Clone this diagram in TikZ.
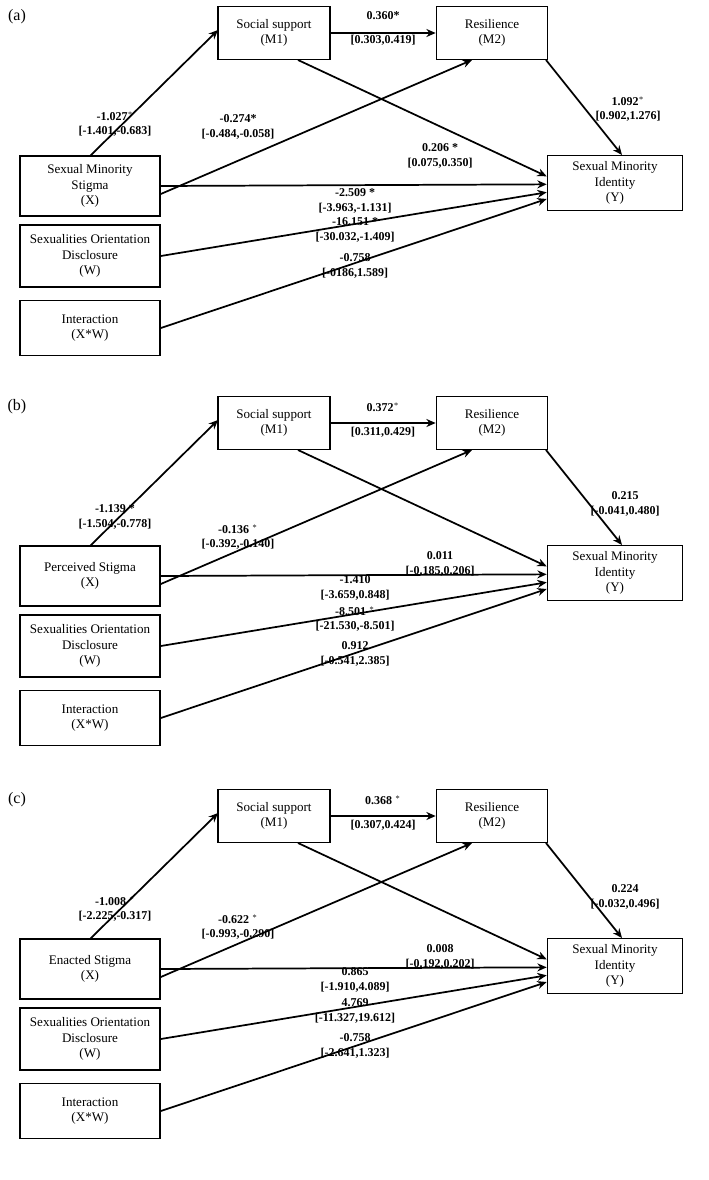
\documentclass[tikz,border=0pt]{standalone}
\usepackage{fontspec}
\setmainfont{Liberation Serif}
\usetikzlibrary{arrows.meta}
\begin{document}
\begin{tikzpicture}[x=0.75pt,y=-0.75pt,
 box/.style={draw,line width=1.2pt,align=center,inner sep=1pt,font=\fontsize{9.8pt}{11.5pt}\selectfont},
 ar/.style={line width=1.3pt,-{Stealth[length=7pt,width=6pt]}},
 lb/.style={font=\bfseries\fontsize{9pt}{11pt}\selectfont,inner sep=0pt},
 pl/.style={font=\fontsize{12pt}{14pt}\selectfont,inner sep=0pt}]
\useasboundingbox (0,0) rectangle (708,1180);
\newcommand\mypanel[9]{%
\begin{scope}[yshift=-#1*0.75pt]
\node[pl] (#2lab) at (17,17) {(#2)};
\node[box,minimum width=84pt,minimum height=39.75pt] (#2m1) at (274,33) {Social support\\(M1)};
\node[box,minimum width=83.25pt,minimum height=39.75pt] (#2m2) at (492,33) {Resilience\\(M2)};
\node[box,minimum width=105pt,minimum height=45pt] (#2x) at (90,186) {#3};
\node[box,minimum width=101.25pt,minimum height=41.25pt] (#2y) at (615,183) {Sexual Minority\\Identity\\(Y)};
\node[box,minimum width=105pt,minimum height=46.5pt] (#2w) at (90,256) {Sexualities Orientation\\Disclosure\\(W)};
\node[box,minimum width=105pt,minimum height=41.25pt] (#2xw) at (90,328) {Interaction\\(X*W)};
\coordinate (#2xt) at (90,156);
\coordinate (#2m1l) at (218,30);
\coordinate (#2m1b) at (298,60);
\coordinate (#2m2b) at (472,60);
\coordinate (#2m2r) at (546,60);
\coordinate (#2yt) at (622,155);
\draw[ar] (#2xt) -- (#2m1l);
\draw[ar] (#2m1) -- (#2m2);
\draw[ar] (#2m2r) -- (#2yt);
\draw[ar] ([yshift=-6pt]#2x.east) -- (#2m2b);
\draw[ar] (#2m1b) -- ([yshift=5pt]#2y.west);
\draw[ar] (#2x.east) -- ([yshift=-1pt]#2y.west);
\draw[ar] (#2w.east) -- ([yshift=-7pt]#2y.west);
\draw[ar] (#2xw.east) -- ([yshift=-12pt]#2y.west);
#4#5#6#7#8#9
\end{scope}}
\newcommand\lbl[4]{\node[lb,align=center] (#1) at (#2,#3) {#4};}
\mypanel{0}{a}{Sexual Minority\\Stigma\\(X)}
 {\lbl{a1}{115}{124}{-1.027$^*$\\{}[-1.401,-0.683]}\lbl{a2}{383}{28}{0.360*\\[7pt][0.303,0.419]}}
 {\lbl{a3}{628}{109}{1.092$^*$\\{}[0.902,1.276]}\lbl{a4}{238}{127}{-0.274*\\{}[-0.484,-0.058]}}
 {\lbl{a5}{440}{156}{0.206 *\\{}[0.075,0.350]}}
 {\lbl{a6}{355}{201}{-2.509 *\\{}[-3.963,-1.131]}}
 {\lbl{a7}{355}{230}{-16.151 *\\{}[-30.032,-1.409]}}
 {\lbl{a8}{355}{266}{-0.758\\{}[-0186,1.589]}}
\mypanel{390}{b}{Perceived Stigma\\(X)}
 {\lbl{b1}{115}{127}{-1.139 *\\{}[-1.504,-0.778]}\lbl{b2}{383}{30}{0.372$^*$\\[7pt][0.311,0.429]}}
 {\lbl{b3}{625}{114}{0.215\\{}[-0.041,0.480]}\lbl{b4}{238}{147}{-0.136 $^*$\\{}[-0.392,-0.140]}}
 {\lbl{b5}{440}{174}{0.011\\{}[-0.185,0.206]}}
 {\lbl{b6}{355}{198}{-1.410\\{}[-3.659,0.848]}}
 {\lbl{b7}{355}{229}{-8.501 $^*$\\{}[-21.530,-8.501]}}
 {\lbl{b8}{355}{264}{0.912\\{}[-0.541,2.385]}}
\mypanel{783}{c}{Enacted Stigma\\(X)}
 {\lbl{c1}{115}{126}{-1.008 $^*$\\{}[-2.225,-0.317]}\lbl{c2}{383}{30}{0.368 $^*$\\[7pt][0.307,0.424]}}
 {\lbl{c3}{625}{114}{0.224\\{}[-0.032,0.496]}\lbl{c4}{238}{144}{-0.622 $^*$\\{}[-0.993,-0.290]}}
 {\lbl{c5}{440}{174}{0.008\\{}[-0.192,0.202]}}
 {\lbl{c6}{355}{197}{0.865\\{}[-1.910,4.089]}}
 {\lbl{c7}{355}{228}{4.769\\{}[-11.327,19.612]}}
 {\lbl{c8}{355}{263}{-0.758\\{}[-2.641,1.323]}}
\end{tikzpicture}
\end{document}
